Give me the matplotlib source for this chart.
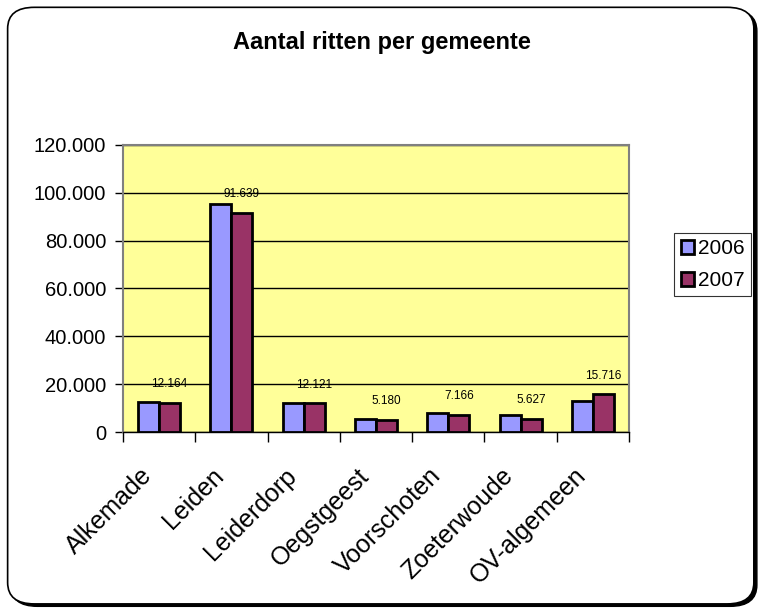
import matplotlib.pyplot as plt
from matplotlib.patches import FancyBboxPatch
from matplotlib.ticker import FuncFormatter
from matplotlib.transforms import ScaledTranslation
import numpy as np

plt.rcParams['font.family'] = ['Liberation Sans', 'DejaVu Sans']

gemeenten = ["Alkemade", "Leiden", "Leiderdorp", "Oegstgeest",
             "Voorschoten", "Zoeterwoude", "OV-algemeen"]
ritten_2006 = [12550, 95300, 12100, 5570, 8080, 6900, 13100]
ritten_2007 = [12164, 91639, 12121, 5180, 7166, 5627, 15716]
jaren = ["2006", "2007"]
kleuren = ["#9999FF", "#993366"]


def nl_format(v, pos=None):
    # dutch thousands separator
    return "{:,.0f}".format(v).replace(",", ".")


fig = plt.figure(figsize=(7.63, 6.1), dpi=100)

# rounded outer frame with a little shadow, kept behind the axes
shadow = FancyBboxPatch((0.014, 0.006), 0.978, 0.978, boxstyle="round,pad=0,rounding_size=0.035",
                        transform=fig.transFigure, facecolor="black", edgecolor="black", zorder=-2)
frame = FancyBboxPatch((0.010, 0.010), 0.978, 0.978, boxstyle="round,pad=0,rounding_size=0.035",
                       transform=fig.transFigure, facecolor="white", edgecolor="black",
                       linewidth=1.2, zorder=-1)
fig.patches.extend([shadow, frame])

ax = fig.add_axes([0.1612, 0.2918, 0.6632, 0.4705])
ax.set_facecolor("#FFFF99")

x = np.arange(len(gemeenten))
w = 0.29
ax.bar(x - w / 2, ritten_2006, w, color=kleuren[0], edgecolor="black", linewidth=2,
       label=jaren[0], zorder=3)
ax.bar(x + w / 2, ritten_2007, w, color=kleuren[1], edgecolor="black", linewidth=2,
       label=jaren[1], zorder=3)

# data labels only for 2007
for xi, v in zip(x, ritten_2007):
    ax.annotate(nl_format(v), (xi + w / 2, v), xytext=(0, 9), textcoords="offset points",
                ha="center", va="bottom", fontsize=8.5, zorder=4)

ax.set_xlim(-0.5, len(gemeenten) - 0.5)
ax.set_ylim(0, 120000)
ax.set_yticks(np.arange(0, 120001, 20000))
ax.yaxis.set_major_formatter(FuncFormatter(nl_format))
ax.grid(axis="y", color="black", linewidth=1, zorder=1)

# category boundaries get the tick marks, names are drawn as separate texts
ax.set_xticks(np.arange(-0.5, len(gemeenten), 1))
ax.set_xticklabels([])
ax.tick_params(axis="x", which="major", length=7, width=1, color="black")
ax.tick_params(axis="y", length=6, width=1, labelsize=14.5, pad=6)

lbl_trans = ax.get_xaxis_transform() + ScaledTranslation(-11 / 100, -40 / 100, fig.dpi_scale_trans)
for xi, naam in zip(x, gemeenten):
    ax.text(xi, 0, naam, transform=lbl_trans, rotation=45, rotation_mode="anchor",
            ha="right", va="center", fontsize=18, clip_on=False)

for side in ["top", "right", "left"]:
    ax.spines[side].set_color("#808080")
    ax.spines[side].set_linewidth(1.5)
ax.spines["bottom"].set_color("black")
ax.spines["bottom"].set_linewidth(1)

fig.text(0.5, 0.93, "Aantal ritten per gemeente", ha="center", va="center",
         fontsize=17, fontweight="bold")

leg = fig.legend(loc="center left", bbox_to_anchor=(0.884, 0.566), fontsize=15,
                 frameon=True, fancybox=False, edgecolor="black", handlelength=0.65,
                 handleheight=0.65, handletextpad=0.2, borderpad=0.3, labelspacing=0.6,
                 borderaxespad=0)
leg.get_frame().set_linewidth(0.8)

fig.savefig("out.png", dpi=100)
